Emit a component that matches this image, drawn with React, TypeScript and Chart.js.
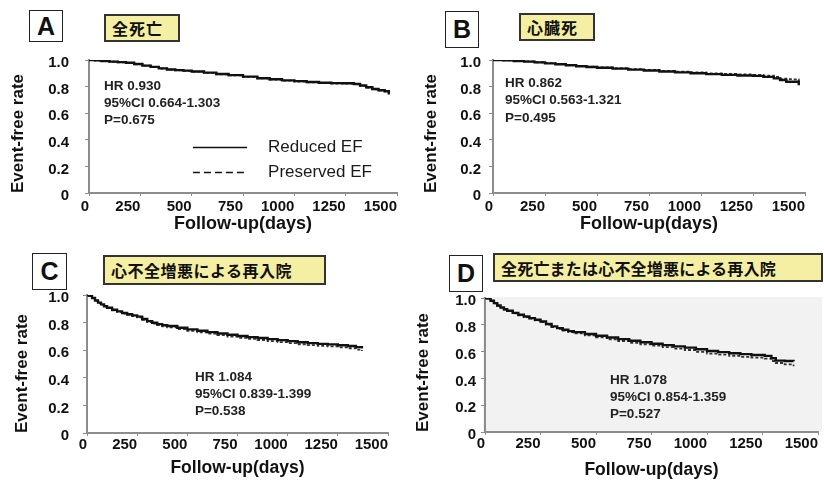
import React, { useEffect, useRef } from 'react';
import { Chart, registerables } from 'chart.js';

Chart.register(...registerables);

const FONT = '"Liberation Sans", Arial, Helvetica, sans-serif';
const CJK = '"Noto Sans CJK JP", "Noto Sans CJK SC", sans-serif';
const W = 824;
const H = 483;

// ---------- data ----------
const X_TICKS = [0, 250, 500, 750, 1000, 1250, 1500];
const Y_TICKS = [0, 0.2, 0.4, 0.6, 0.8, 1.0];
const Y_TICK_LABELS = ['0', '0.2', '0.4', '0.6', '0.8', '1.0'];
const SERIES_NAMES = ['Reduced EF', 'Preserved EF'];
const X_TITLE = 'Follow-up(days)';
const Y_TITLE = 'Event-free rate';

const PANEL_LETTERS = ['A', 'B', 'C', 'D'];
const PANEL_TITLES = ['全死亡', '心臓死', '心不全増悪による再入院', '全死亡または心不全増悪による再入院'];

const STATS_A = ['HR 0.930', '95%CI 0.664-1.303', 'P=0.675'];
const STATS_B = ['HR 0.862', '95%CI 0.563-1.321', 'P=0.495'];
const STATS_C = ['HR 1.084', '95%CI 0.839-1.399', 'P=0.538'];
const STATS_D = ['HR 1.078', '95%CI 0.854-1.359', 'P=0.527'];

// A: all-cause death
const A_DAYS = [0, 30, 60, 100, 140, 180, 220, 260, 300, 340, 380, 420, 460, 500, 560, 620, 680, 750, 820, 880, 940, 1000, 1060, 1120, 1180, 1240, 1290, 1320, 1350, 1380, 1410, 1440, 1460];
const A_REDUCED = [1.0, 0.997, 0.993, 0.988, 0.984, 0.979, 0.97, 0.958, 0.948, 0.937, 0.929, 0.924, 0.92, 0.914, 0.905, 0.895, 0.886, 0.875, 0.863, 0.855, 0.847, 0.841, 0.835, 0.829, 0.826, 0.825, 0.82, 0.808, 0.795, 0.782, 0.772, 0.765, 0.74];
const A_PRESERVED = [1.0, 0.996, 0.992, 0.987, 0.982, 0.977, 0.968, 0.957, 0.946, 0.936, 0.928, 0.922, 0.918, 0.912, 0.903, 0.893, 0.884, 0.873, 0.862, 0.853, 0.845, 0.838, 0.832, 0.827, 0.823, 0.822, 0.818, 0.806, 0.792, 0.78, 0.772, 0.765, 0.758];

// B: cardiac death
const B_DAYS = [0, 50, 100, 150, 200, 250, 300, 350, 400, 450, 500, 575, 650, 725, 800, 875, 950, 1025, 1100, 1175, 1250, 1300, 1350, 1380, 1410, 1440, 1470];
const B_REDUCED = [1.0, 0.997, 0.993, 0.988, 0.982, 0.975, 0.968, 0.96, 0.953, 0.947, 0.942, 0.935, 0.928, 0.921, 0.914, 0.907, 0.9, 0.894, 0.888, 0.884, 0.881, 0.873, 0.862, 0.85, 0.836, 0.836, 0.81];
const B_PRESERVED = [1.0, 0.997, 0.994, 0.989, 0.983, 0.977, 0.97, 0.962, 0.956, 0.95, 0.945, 0.938, 0.931, 0.925, 0.918, 0.912, 0.906, 0.9, 0.895, 0.891, 0.888, 0.882, 0.872, 0.86, 0.856, 0.855, 0.84];

// C: rehospitalization for worsening HF
const C_DAYS = [0, 10, 25, 40, 55, 70, 85, 100, 125, 150, 175, 200, 225, 250, 275, 300, 325, 350, 375, 400, 450, 500, 550, 600, 650, 700, 750, 800, 850, 900, 950, 1000, 1050, 1100, 1150, 1200, 1250, 1300, 1340, 1370];
const C_REDUCED = [1.0, 0.995, 0.978, 0.96, 0.945, 0.932, 0.919, 0.908, 0.893, 0.881, 0.87, 0.86, 0.852, 0.843, 0.826, 0.811, 0.799, 0.789, 0.781, 0.775, 0.763, 0.751, 0.741, 0.731, 0.721, 0.712, 0.703, 0.695, 0.688, 0.68, 0.673, 0.666, 0.658, 0.651, 0.646, 0.642, 0.636, 0.63, 0.622, 0.613];
const C_PRESERVED = [1.0, 0.994, 0.976, 0.958, 0.942, 0.929, 0.916, 0.905, 0.889, 0.877, 0.866, 0.856, 0.847, 0.838, 0.82, 0.804, 0.792, 0.781, 0.773, 0.766, 0.753, 0.741, 0.73, 0.72, 0.709, 0.699, 0.69, 0.682, 0.674, 0.666, 0.658, 0.651, 0.643, 0.637, 0.632, 0.627, 0.621, 0.614, 0.604, 0.595];

// D: all-cause death or rehospitalization for worsening HF
const D_DAYS = [0, 10, 25, 40, 55, 70, 85, 100, 125, 150, 175, 200, 225, 250, 275, 300, 325, 350, 375, 400, 450, 500, 550, 600, 650, 700, 750, 800, 850, 900, 950, 1000, 1050, 1100, 1150, 1200, 1260, 1290, 1310, 1350, 1390];
const D_REDUCED = [1.0, 0.995, 0.98, 0.962, 0.944, 0.93, 0.916, 0.905, 0.889, 0.875, 0.862, 0.85, 0.838, 0.825, 0.806, 0.788, 0.775, 0.763, 0.753, 0.745, 0.731, 0.718, 0.705, 0.693, 0.681, 0.67, 0.659, 0.648, 0.639, 0.63, 0.617, 0.605, 0.596, 0.588, 0.581, 0.575, 0.568, 0.55, 0.533, 0.53, 0.528];
const D_PRESERVED = [1.0, 0.994, 0.978, 0.96, 0.941, 0.927, 0.913, 0.902, 0.886, 0.871, 0.858, 0.846, 0.834, 0.821, 0.801, 0.783, 0.769, 0.757, 0.746, 0.737, 0.721, 0.706, 0.692, 0.679, 0.666, 0.655, 0.644, 0.633, 0.622, 0.612, 0.598, 0.585, 0.577, 0.569, 0.561, 0.555, 0.548, 0.53, 0.515, 0.505, 0.49];

const SERIES = [
  { days: A_DAYS, reduced: A_REDUCED, preserved: A_PRESERVED, stats: STATS_A },
  { days: B_DAYS, reduced: B_REDUCED, preserved: B_PRESERVED, stats: STATS_B },
  { days: C_DAYS, reduced: C_REDUCED, preserved: C_PRESERVED, stats: STATS_C },
  { days: D_DAYS, reduced: D_REDUCED, preserved: D_PRESERVED, stats: STATS_D },
];

// ---------- layout (pixels / anchors, not data) ----------
const PANELS = [
  { left: 89, right: 397, top: 60, bottom: 193, yTitleX: 18, yTickPad: 16, xTickPad: 2, xTitleY: 224, xTitleSize: 18,
    statsAt: [73, 0.805], statsLh: 17, legend: { x1: 506, x2: 770, tx: 872, ys: [0.346, 0.158] }, bg: null },
  { left: 493, right: 805, top: 60, bottom: 193, yTitleX: 431, yTickPad: 8, xTickPad: 2, xTitleY: 224, xTitleSize: 18,
    statsAt: [58, 0.827], statsLh: 17.5, legend: null, bg: null },
  { left: 87, right: 388, top: 295, bottom: 433, yTitleX: 22, yTickPad: 14, xTickPad: 0, xTitleY: 468, xTitleSize: 17.5,
    statsAt: [538, 0.406], statsLh: 17, legend: null, bg: null },
  { left: 485, right: 818, top: 298, bottom: 432, yTitleX: 423, yTickPad: 5, xTickPad: 0, xTitleY: 470, xTitleSize: 17.5,
    statsAt: [563, 0.388], statsLh: 17, legend: null, bg: '#f2f2f2' },
];

const BOXES = [
  { letter: [29, 10, 34, 32], label: [104, 14, 76, 28], ls: 1 },
  { letter: [445, 11, 34, 37], label: [519, 13, 76, 28], ls: 1 },
  { letter: [32, 253, 35, 37], label: [103, 255, 223, 30], ls: 0.5 },
  { letter: [449, 255, 34, 37], label: [493, 253, 330, 29], ls: 0.2 },
];

function makeConfig(p: any, s: any): any {
  const yLH = 17 * 1.2;
  const xLH = p.xTitleSize * 1.2;
  const padLeft = p.yTitleX - yLH / 2;
  const yWidth = p.left - padLeft;
  const xHeight = p.xTitleY - p.bottom + xLH / 2;
  const padBottom = H - p.bottom - xHeight;
  const axisColor = '#8c8c8c';

  const notes = {
    id: 'kmNotes',
    beforeDraw(chart: any) {
      if (!p.bg) return;
      const { left, top, right, bottom } = chart.chartArea;
      const ctx = chart.ctx;
      ctx.save();
      ctx.fillStyle = p.bg;
      ctx.fillRect(left - 2, top - 1, right - left + 6, bottom - top + 1);
      ctx.restore();
    },
    afterDatasetsDraw(chart: any) {
      const ctx = chart.ctx;
      const xs = chart.scales.x;
      const ys = chart.scales.y;
      ctx.save();
      ctx.font = 'bold 13.5px ' + FONT;
      ctx.fillStyle = '#222';
      ctx.textBaseline = 'middle';
      ctx.textAlign = 'left';
      const x0 = xs.getPixelForValue(p.statsAt[0]);
      const y0 = ys.getPixelForValue(p.statsAt[1]);
      s.stats.forEach((t: string, i: number) => ctx.fillText(t, x0, y0 + i * p.statsLh));
      if (p.legend) {
        const lg = p.legend;
        chart.data.datasets.forEach((ds: any, i: number) => {
          const y = Math.round(ys.getPixelForValue(lg.ys[i])) + 0.5;
          ctx.strokeStyle = '#111';
          ctx.lineWidth = 1.5;
          ctx.setLineDash(i === 1 ? [7, 4] : []);
          ctx.beginPath();
          ctx.moveTo(xs.getPixelForValue(lg.x1), y);
          ctx.lineTo(xs.getPixelForValue(lg.x2), y);
          ctx.stroke();
          ctx.setLineDash([]);
          ctx.font = '17px ' + FONT;
          ctx.fillStyle = '#1a1a1a';
          ctx.fillText(ds.label, xs.getPixelForValue(lg.tx), y);
        });
      }
      ctx.restore();
    },
  };

  return {
    type: 'line',
    data: {
      datasets: [
        {
          label: SERIES_NAMES[0],
          data: s.days.map((d: number, i: number) => ({ x: d, y: s.reduced[i] })),
          borderColor: '#111',
          borderWidth: 2.4,
          stepped: 'before',
          pointRadius: 0,
          fill: false,
        },
        {
          label: SERIES_NAMES[1],
          data: s.days.map((d: number, i: number) => ({ x: d, y: s.preserved[i] })),
          borderColor: '#333',
          borderWidth: 1.8,
          borderDash: [3, 2],
          stepped: 'before',
          pointRadius: 0,
          fill: false,
        },
      ],
    },
    options: {
      responsive: false,
      animation: false,
      devicePixelRatio: 1,
      events: [],
      layout: { padding: { left: padLeft, right: W - p.right, top: p.top, bottom: padBottom } },
      plugins: { legend: { display: false }, tooltip: { enabled: false } },
      scales: {
        x: {
          type: 'linear',
          min: 0,
          max: 1500,
          afterBuildTicks: (sc: any) => { sc.ticks = X_TICKS.map((v) => ({ value: v })); },
          afterFit: (sc: any) => { sc.height = xHeight; },
          ticks: {
            align: 'end',
            padding: p.xTickPad,
            maxRotation: 0,
            autoSkip: false,
            color: '#111',
            font: { family: FONT, size: 15, weight: 'bold' },
            callback: (v: any) => String(v),
          },
          grid: { drawOnChartArea: false, drawTicks: true, tickLength: 3, color: axisColor },
          border: { display: true, color: axisColor, width: 2 },
          title: {
            display: true,
            text: X_TITLE,
            color: '#111',
            padding: 0,
            font: { family: FONT, size: p.xTitleSize, weight: 'bold' },
          },
        },
        y: {
          type: 'linear',
          min: 0,
          max: 1,
          afterBuildTicks: (sc: any) => { sc.ticks = Y_TICKS.map((v) => ({ value: v })); },
          afterFit: (sc: any) => { sc.width = yWidth; },
          ticks: {
            padding: p.yTickPad,
            labelOffset: 3,
            color: '#111',
            font: { family: FONT, size: 15, weight: 'bold' },
            callback: (_v: any, i: number) => Y_TICK_LABELS[i],
          },
          grid: { drawOnChartArea: false, drawTicks: true, tickLength: 4, color: axisColor },
          border: { display: true, color: axisColor, width: 2 },
          title: {
            display: true,
            text: Y_TITLE,
            align: 'start',
            color: '#111',
            padding: 0,
            font: { family: FONT, size: 17, weight: 'bold' },
          },
        },
      },
    },
    plugins: [notes],
  };
}

export default function App() {
  const refs = useRef<(HTMLCanvasElement | null)[]>([]);

  useEffect(() => {
    const charts = PANELS.map((p, i) => new Chart(refs.current[i] as HTMLCanvasElement, makeConfig(p, SERIES[i])));
    return () => charts.forEach((c) => c.destroy());
  }, []);

  return (
    <div style={{ position: 'absolute', left: 0, top: 0, width: W, height: H, background: '#fff', overflow: 'hidden' }}>
      {PANELS.map((_p, i) => (
        <canvas
          key={'c' + i}
          ref={(el) => { refs.current[i] = el; }}
          width={W}
          height={H}
          style={{ position: 'absolute', left: 0, top: 0, width: W, height: H }}
        />
      ))}
      {BOXES.map((b, i) => (
        <React.Fragment key={'b' + i}>
          <div
            style={{
              position: 'absolute',
              left: b.letter[0],
              top: b.letter[1],
              width: b.letter[2],
              height: b.letter[3],
              boxSizing: 'border-box',
              border: '1.5px solid #222',
              background: '#fff',
              display: 'flex',
              alignItems: 'center',
              justifyContent: 'center',
              fontFamily: FONT,
              fontWeight: 'bold',
              fontSize: 25,
              color: '#111',
              lineHeight: 1,
            }}
          >
            {PANEL_LETTERS[i]}
          </div>
          <div
            style={{
              position: 'absolute',
              left: b.label[0],
              top: b.label[1],
              width: b.label[2],
              height: b.label[3],
              boxSizing: 'border-box',
              border: '2px solid #333',
              background: '#f4efa2',
              display: 'flex',
              alignItems: 'center',
              paddingLeft: 6,
              fontFamily: CJK,
              fontWeight: 'bold',
              fontSize: 16,
              letterSpacing: b.ls,
              color: '#111',
              whiteSpace: 'nowrap',
              overflow: 'hidden',
            }}
          >
            {PANEL_TITLES[i]}
          </div>
        </React.Fragment>
      ))}
    </div>
  );
}
